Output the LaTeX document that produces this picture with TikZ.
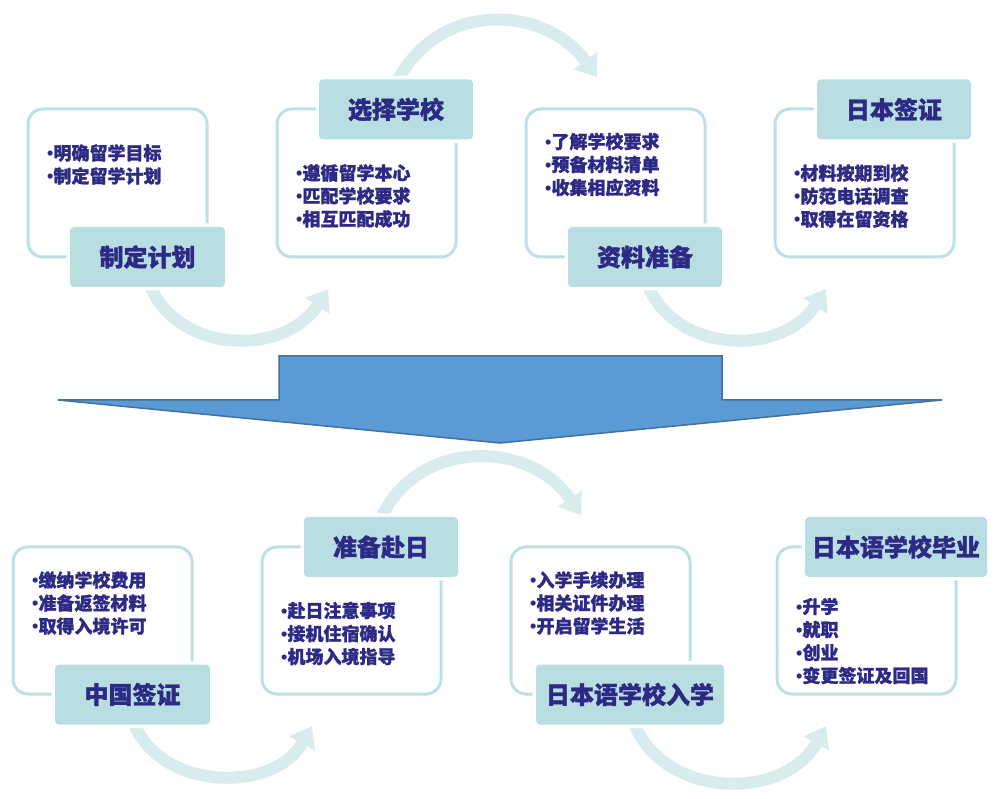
\documentclass[tikz,border=0pt]{standalone}
\usepackage{fontspec}
\usetikzlibrary{arrows.meta}
\newfontfamily\cjk{Noto Sans CJK SC}[BoldFeatures={FakeBold=1.3}]
\newfontfamily\latf{Liberation Sans}
\newcommand{\bl}{{\latf\bfseries •}}
\definecolor{outl}{HTML}{BCE0E3}
\definecolor{labf}{HTML}{B9DEE1}
\definecolor{arrc}{HTML}{D8ECEE}
\definecolor{txtc}{HTML}{2D2A85}
\definecolor{bigf}{HTML}{5B9BD5}
\definecolor{bigs}{HTML}{41719C}
\tikzset{
  outbox/.style={draw=outl, line width=3pt, rounded corners=15pt, fill=white, minimum width=179pt, minimum height=148pt, inner sep=0pt},
  labbox/.style={fill=labf, rounded corners=4pt, preaction={draw=white, line width=7pt}, minimum height=60pt, inner sep=0pt, text=txtc, font=\cjk\bfseries\fontsize{24}{28}\selectfont},
  bullist/.style={anchor=west, align=left, inner sep=0pt, text=txtc, font=\cjk\bfseries\fontsize{18}{23}\selectfont},
  flowarr/.style={draw=arrc, line width=12pt, -{Triangle[width=28pt,length=20pt]}}
}
\begin{document}
\begin{tikzpicture}[x=1pt,y=-1pt]
\fill[white] (0,0) rectangle (997,799);
\useasboundingbox (0,0) rectangle (997,799);
% curved arrows (behind)
\coordinate (a1s) at (150,286); \coordinate (a1e) at (328,289);
\coordinate (a2s) at (398,80); \coordinate (a2e) at (597,77);
\coordinate (a3s) at (648,286); \coordinate (a3e) at (826,289);
\coordinate (a4s) at (135,726); \coordinate (a4e) at (312,726);
\coordinate (a5s) at (382,516); \coordinate (a5e) at (581,515);
\coordinate (a6s) at (635,726); \coordinate (a6e) at (826,726);
\draw[flowarr] (a1s) .. controls (180,355) and (285,356) .. (a1e);
\draw[flowarr] (a2s) .. controls (440,0) and (545,5) .. (a2e);
\draw[flowarr] (a3s) .. controls (678,355) and (783,356) .. (a3e);
\draw[flowarr] (a4s) .. controls (165,792) and (275,792) .. (a4e);
\draw[flowarr] (a5s) .. controls (420,438) and (530,440) .. (a5e);
\draw[flowarr] (a6s) .. controls (668,800) and (785,800) .. (a6e);
% top row
\node[outbox] (o1) at (117.5,183) {};
\node[outbox] (o2) at (366.5,183) {};
\node[outbox] (o3) at (615.5,183) {};
\node[outbox] (o4) at (864.5,183) {};
\node[labbox, minimum width=155pt] (l1) at (147.5,257) {制定计划};
\node[labbox, minimum width=154pt] (l2) at (396,109.5) {选择学校};
\node[labbox, minimum width=154pt] (l3) at (645,257) {资料准备};
\node[labbox, minimum width=154pt] (l4) at (894,109.5) {日本签证};
\node[bullist] (t1) at (47,164.5) {\bl 明确留学目标\\\bl 制定留学计划};
\node[bullist] (t2) at (296,196) {\bl 遵循留学本心\\\bl 匹配学校要求\\\bl 相互匹配成功};
\node[bullist] (t3) at (545,164.5) {\bl 了解学校要求\\\bl 预备材料清单\\\bl 收集相应资料};
\node[bullist] (t4) at (794,196) {\bl 材料按期到校\\\bl 防范电话调查\\\bl 取得在留资格};
% big arrow
\draw[fill=bigf, draw=bigs, line width=1.5pt, line join=miter]
  (279,356) -- (722,356) -- (722,400) -- (942,400) -- (500,443) -- (58,400) -- (279,400) -- cycle;
% bottom row
\node[outbox, minimum height=147pt] (o5) at (102.5,620.5) {};
\node[outbox, minimum height=147pt] (o6) at (351.5,620.5) {};
\node[outbox, minimum height=147pt] (o7) at (600.5,620.5) {};
\node[outbox, minimum height=147pt] (o8) at (866.5,620.5) {};
\node[labbox, minimum width=155pt] (l5) at (132.5,694.5) {中国签证};
\node[labbox, minimum width=154pt] (l6) at (381,547) {准备赴日};
\node[labbox, minimum width=188pt] (l7) at (630,694.5) {日本语学校入学};
\node[labbox, minimum width=182pt] (l8) at (896,547) {日本语学校毕业};
\node[bullist] (t5) at (32,603) {\bl 缴纳学校费用\\\bl 准备返签材料\\\bl 取得入境许可};
\node[bullist] (t6) at (281,633.5) {\bl 赴日注意事项\\\bl 接机住宿确认\\\bl 机场入境指导};
\node[bullist] (t7) at (530,603) {\bl 入学手续办理\\\bl 相关证件办理\\\bl 开启留学生活};
\node[bullist] (t8) at (796,641) {\bl 升学\\\bl 就职\\\bl 创业\\\bl 变更签证及回国};
\end{tikzpicture}
\end{document}
